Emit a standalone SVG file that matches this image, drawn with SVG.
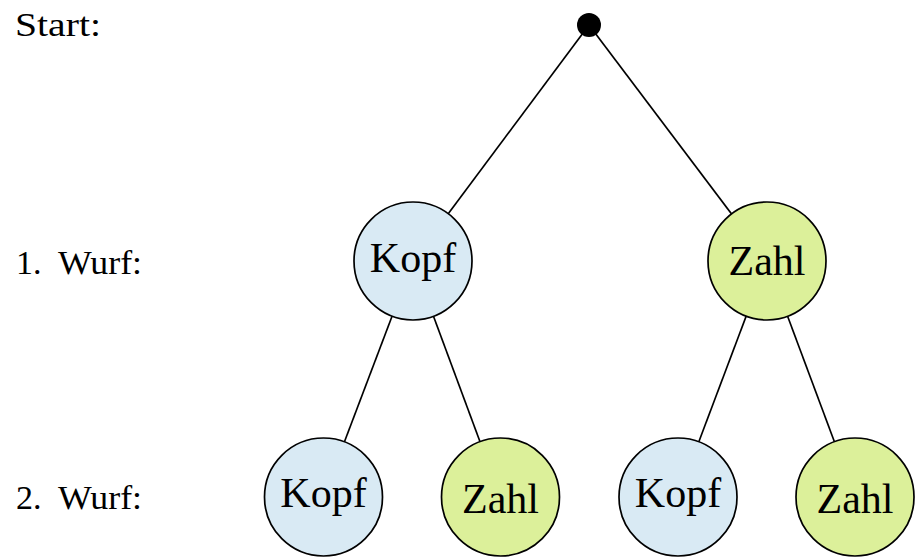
<svg xmlns="http://www.w3.org/2000/svg" width="915" height="558" viewBox="0 0 915 558">
<style>
.edge{stroke:#000;stroke-width:1.7;fill:none}
.node{stroke:#000;stroke-width:1.7}
.kopf{fill:#d9eaf4}
.zahl{fill:#dcf09a}
.nt{font-family:"Liberation Serif","DejaVu Serif",serif;font-size:42px;text-anchor:middle;fill:#000}
.lbl{font-family:"Liberation Serif","DejaVu Serif",serif;font-size:34px;fill:#000}
</style>
<rect width="915" height="558" fill="#fff"/>
<g id="labels">
<text class="lbl" x="15" y="36" textLength="86" lengthAdjust="spacingAndGlyphs">Start:</text>
<text class="lbl" y="274"><tspan x="16">1.</tspan> <tspan x="58" textLength="84" lengthAdjust="spacingAndGlyphs">Wurf:</tspan></text>
<text class="lbl" y="509"><tspan x="16">2.</tspan> <tspan x="58" textLength="84" lengthAdjust="spacingAndGlyphs">Wurf:</tspan></text>
</g>
<g id="connectors">
<line class="edge" x1="589" y1="25" x2="413" y2="261"/>
<line class="edge" x1="589" y1="25" x2="767" y2="261"/>
<line class="edge" x1="413" y1="261" x2="323.5" y2="497"/>
<line class="edge" x1="413" y1="261" x2="500.5" y2="497"/>
<line class="edge" x1="767" y1="261" x2="678" y2="497"/>
<line class="edge" x1="767" y1="261" x2="855" y2="497"/>
</g>
<g id="root"><circle cx="589" cy="25" r="12" fill="#000"/></g>
<g id="n1kopf"><circle class="node kopf" cx="413" cy="261" r="59"/><text class="nt" x="413" y="272">Kopf</text></g>
<g id="n1zahl"><circle class="node zahl" cx="767" cy="261" r="59"/><text class="nt" x="767" y="275">Zahl</text></g>
<g id="n2kopf1"><circle class="node kopf" cx="323.5" cy="497" r="59"/><text class="nt" x="323.5" y="507">Kopf</text></g>
<g id="n2zahl1"><circle class="node zahl" cx="500.5" cy="497" r="59"/><text class="nt" x="500.5" y="513">Zahl</text></g>
<g id="n2kopf2"><circle class="node kopf" cx="678" cy="497" r="59"/><text class="nt" x="678" y="507">Kopf</text></g>
<g id="n2zahl2"><circle class="node zahl" cx="855" cy="497" r="59"/><text class="nt" x="855" y="513">Zahl</text></g>
</svg>
